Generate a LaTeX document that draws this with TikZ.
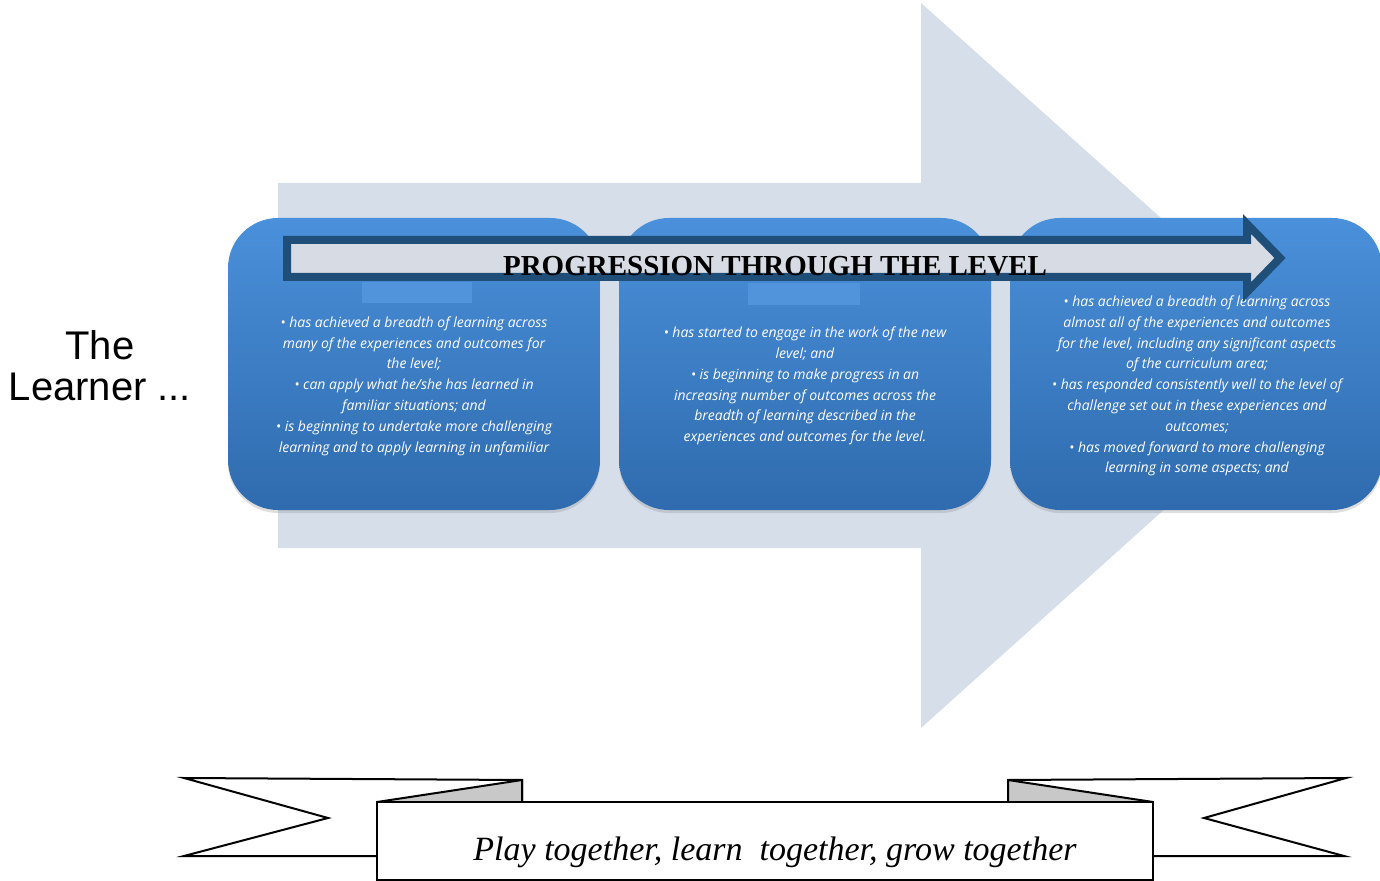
\documentclass[tikz,border=0pt]{standalone}
\usepackage{fontspec}
\setmainfont{Liberation Serif}
\newfontfamily\learnerfont{Liberation Sans}
\newfontfamily\pointfont{Open Sans}
\usetikzlibrary{shadows}

\definecolor{bgarrow}{HTML}{D6DEEA}
\definecolor{boxtop}{HTML}{4A90DA}
\definecolor{boxbottom}{HTML}{2F6BAE}
\definecolor{progline}{HTML}{1F4E79}
\definecolor{progfill}{HTML}{D7DCE4}
\definecolor{foldgrey}{HTML}{C8C8C8}

\begin{document}
\begin{tikzpicture}[x=0.5pt, y=-0.5pt,
    learnbox/.style={rounded corners=25pt, top color=boxtop, bottom color=boxbottom,
        minimum width=186pt, minimum height=146pt, inner sep=0pt,
        drop shadow={opacity=0.25, shadow xshift=0pt, shadow yshift=-1.5pt}},
    titlepatch/.style={fill=boxtop!96!white},
    points/.style={text=white, align=center,
        font=\pointfont\itshape\fontsize{7}{10.4}\selectfont},
    progress/.style={draw=progline, fill=progfill, line width=4pt, miter limit=10},
    ribbon/.style={draw=black, line width=1pt, fill=white},
    fold/.style={draw=black, line width=1pt, fill=foldgrey}]
    % the frame
    \useasboundingbox (0,0) rectangle (1380,881);
    % the big arrow
    \fill[bgarrow] (278,183) -- (921,183) -- (921,3) -- (1325,365)
        -- (921,728) -- (921,548) -- (278,548) -- cycle;

    % the boxes
    \node[learnbox] (early) at (414,364) {};
    \node[learnbox] (middle) at (805,364) {};
    \node[learnbox] (late) at (1196,364) {};
    \fill[titlepatch] (362,282) rectangle (472,303);
    \fill[titlepatch] (748,283) rectangle (860,305);

    \node[points] (earlytext) at (414,386) {%
        • has achieved a breadth of learning across\\
        many of the experiences and outcomes for\\
        the level;\\
        • can apply what he/she has learned in\\
        familiar situations; and\\
        • is beginning to undertake more challenging\\
        learning and to apply learning in unfamiliar};
    \node[points] (middletext) at (805,386) {%
        • has started to engage in the work of the new\\
        level; and\\
        • is beginning to make progress in an\\
        increasing number of outcomes across the\\
        breadth of learning described in the\\
        experiences and outcomes for the level.};
    \node[points] (latetext) at (1197,386) {%
        • has achieved a breadth of learning across\\
        almost all of the experiences and outcomes\\
        for the level, including any significant aspects\\
        of the curriculum area;\\
        • has responded consistently well to the level of\\
        challenge set out in these experiences and\\
        outcomes;\\
        • has moved forward to more challenging\\
        learning in some aspects; and};

    % the progress arrow
    \draw[progress] (287,240) -- (1247,240) -- (1247,224) -- (1280,258)
        -- (1247,292) -- (1247,277) -- (287,277) -- cycle;
    \node[anchor=base, font=\bfseries\fontsize{14.5}{16}\selectfont]
        (progtitle) at (775,276) {PROGRESSION THROUGH THE LEVEL};

    % labels
    \node[align=center, font=\learnerfont\fontsize{20}{20.5}\selectfont]
        (learner) at (100,366) {The\\Learner ...};

    % the banner
    \draw[ribbon] (184,778) -- (522,780) -- (522,856) -- (184,856) -- (328,818) -- cycle;
    \draw[ribbon] (1346,778) -- (1008,780) -- (1008,856) -- (1344,856) -- (1204,818) -- cycle;
    \draw[fold] (377,802) -- (522,780) -- (522,802) -- cycle;
    \draw[fold] (1153,802) -- (1008,780) -- (1008,802) -- cycle;
    \draw[ribbon] (377,802) rectangle (1153,880);
    \node[anchor=base, font=\itshape\fontsize{17}{19}\selectfont]
        (motto) at (775,860) {Play together, learn\ \ together, grow together};
\end{tikzpicture}
\end{document}
